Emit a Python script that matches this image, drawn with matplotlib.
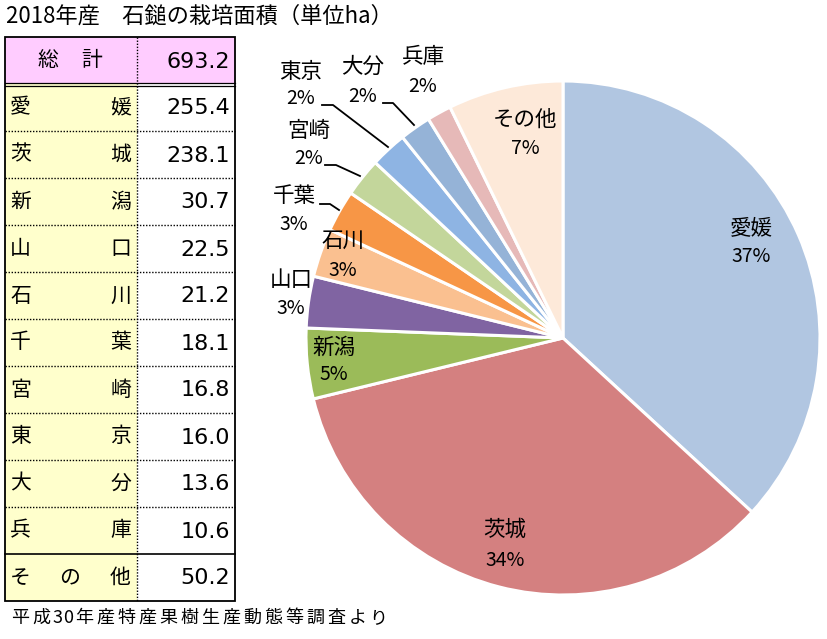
import matplotlib
matplotlib.use('Agg')
import matplotlib.pyplot as plt
from matplotlib.patches import Rectangle

plt.rcParams['font.family'] = ['Noto Sans CJK JP', 'DejaVu Sans']

#------------------------------------------------------------------------------#
# data                                                                         #
#------------------------------------------------------------------------------#

prefectures = ['愛媛', '茨城', '新潟', '山口', '石川', '千葉', '宮崎', '東京', '大分', '兵庫', 'その他']
areas = [255.4, 238.1, 30.7, 22.5, 21.2, 18.1, 16.8, 16.0, 13.6, 10.6, 50.2]
total = 693.2
pctLabels = ['37%', '34%', '5%', '3%', '3%', '3%', '2%', '2%', '2%', '2%', '7%']

sliceColors = ['#B1C6E1', '#D48080', '#9BBB59', '#8064A2', '#FAC090', '#F79646',
               '#C3D69B', '#8EB4E3', '#95B3D7', '#E6B9B8', '#FDE9D9']

title = '2018年産　石鎚の栽培面積（単位ha）'
source = '平成30年産特産果樹生産動態等調査より'

#------------------------------------------------------------------------------#
# layout (pixels)                                                              #
#------------------------------------------------------------------------------#

W, H = 827, 639
cx, cy, R = 563, 338, 257

# label positions: (x, y of name, y of percent)
labelPos = {
    '愛媛': (751, 228, 256),
    '茨城': (505, 530, 560),
    '新潟': (334, 348, 375),
    '山口': (291, 280, 308),
    '石川': (343, 241, 270),
    '千葉': (294, 196, 224),
    '宮崎': (309, 131, 158),
    '東京': (301, 72, 99),
    '大分': (363, 67, 96),
    '兵庫': (423, 57, 86),
    'その他': (525, 120, 148),
}

leaders = [
    [(322, 105), (333, 105), (388, 147)],
    [(383, 103), (393, 103), (414, 125)],
    [(325, 165), (336, 165), (360, 176)],
    [(320, 204), (330, 204), (339, 210)],
]

fig = plt.figure(figsize=(W / 100, H / 100), dpi=100)

# pie ---------------------------------------------------------------------------#
axPie = fig.add_axes([(cx - R) / W, (H - cy - R) / H, 2 * R / W, 2 * R / H])
axPie.pie(areas, colors=sliceColors, startangle=90, counterclock=False,
          wedgeprops=dict(edgecolor='white', linewidth=2.2))
axPie.set_xlim(-1, 1)
axPie.set_ylim(-1, 1)
axPie.set_aspect('equal')
axPie.axis('off')

# overlay in pixel coords ---------------------------------------------------------#
ax = fig.add_axes([0, 0, 1, 1], facecolor='none')
ax.set_xlim(0, W)
ax.set_ylim(H, 0)
ax.axis('off')

for name, pct in zip(prefectures, pctLabels):
    x, yn, yp = labelPos[name]
    ax.text(x, yn, name, fontsize=15.5, ha='center', va='center', color='black')
    ax.text(x, yp, pct, fontsize=14, ha='center', va='center', color='black')

for pts in leaders:
    xs, ys = zip(*pts)
    ax.plot(xs, ys, color='black', lw=1.3)

# title
ax.text(6, 16, title, fontsize=16, ha='left', va='center')

# source line, monospaced like the original
sx = 10
for ch in source:
    adv = 11 if ch.isascii() else 21
    ax.text(sx + adv / 2, 618, ch, fontsize=13, ha='center', va='center')
    sx += adv

# table ------------------------------------------------------------------------#
tx0, tx1, tx2 = 5, 137, 235
ty0, rowH = 37, 47
nRows = len(prefectures) + 1
ty1 = ty0 + nRows * rowH

ax.add_patch(Rectangle((tx0, ty0), tx2 - tx0, rowH, facecolor='#FFCCFF', edgecolor='none'))
ax.add_patch(Rectangle((tx0, ty0 + rowH), tx1 - tx0, ty1 - ty0 - rowH, facecolor='#FFFFCC', edgecolor='none'))

# row lines
for i in range(1, nRows):
    y = ty0 + i * rowH
    if i == 1:
        ax.plot([tx0, tx2], [y - 1.5, y - 1.5], color='black', lw=0.9)
        ax.plot([tx0, tx2], [y + 1.5, y + 1.5], color='black', lw=0.9)
    elif i == nRows - 1:
        ax.plot([tx0, tx2], [y, y], color='black', lw=1.2)
    else:
        ax.plot([tx0, tx2], [y, y], color='black', lw=1.0, ls=(0, (1, 1.2)))
ax.plot([tx1, tx1], [ty0, ty1], color='black', lw=1.0, ls=(0, (1, 1.2)))
ax.add_patch(Rectangle((tx0, ty0), tx2 - tx0, ty1 - ty0, facecolor='none', edgecolor='black', lw=1.3))

# header
yc = ty0 + rowH / 2
ax.text(48, yc, '総', fontsize=15, ha='center', va='center')
ax.text(92, yc, '計', fontsize=15, ha='center', va='center')
ax.text(230, yc + 1, f'{total:.1f}', fontsize=16, ha='right', va='center', family='DejaVu Sans')

for i, (name, val) in enumerate(zip(prefectures, areas)):
    yc = ty0 + (i + 1.5) * rowH
    ax.text(10, yc, name[0], fontsize=15, ha='left', va='center')
    ax.text(131, yc, name[-1], fontsize=15, ha='right', va='center')
    if len(name) == 3:
        ax.text(70, yc, name[1], fontsize=15, ha='center', va='center')
    ax.text(230, yc + 1, f'{val:.1f}', fontsize=16, ha='right', va='center', family='DejaVu Sans')

fig.savefig('out.png', dpi=100)
